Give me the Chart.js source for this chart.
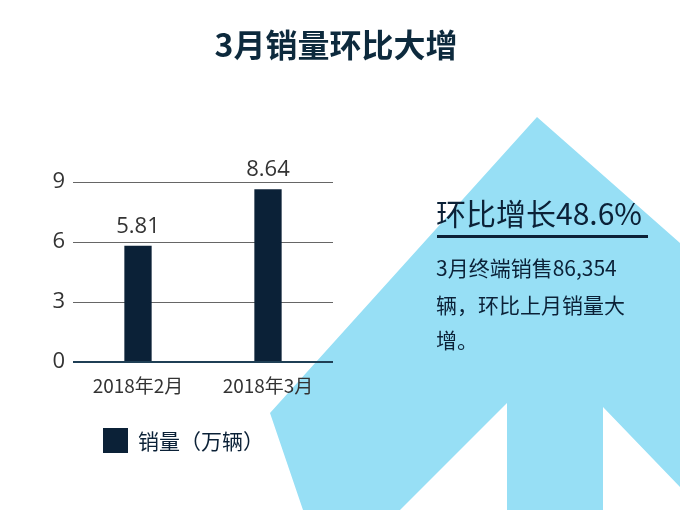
<!DOCTYPE html>
<html>
<head>
<meta charset="utf-8">
<script src="https://cdn.jsdelivr.net/npm/chart.js@4/dist/chart.umd.min.js"></script>
<style>
  body { margin: 0; background: #fff; }
  #wrap { width: 680px; height: 510px; position: relative; }
</style>
</head>
<body>
<div id="wrap"><canvas id="c" width="680" height="510"></canvas></div>
<script>
const categories = ["2018年2月", "2018年3月"]
const sales = [5.81, 8.64]
const yTicks = [0, 3, 6, 9]
const seriesName = "销量（万辆）"

const FONT = "'Noto Sans CJK SC', 'Noto Sans', sans-serif"
const DARK = "#0b2137"

// background arrow, title, side note and legend
const decor = {
  id: "decor",
  beforeDraw(chart) {
    const ctx = chart.ctx
    ctx.save()
    ctx.fillStyle = "#97dff5"
    ctx.beginPath()
    const pts = [[537,117],[680,243],[680,487],[603,407],[603,510],[507,510],[507,403],[400,510],[303,510],[270,413]]
    pts.forEach((p, i) => i ? ctx.lineTo(p[0], p[1]) : ctx.moveTo(p[0], p[1]))
    ctx.closePath()
    ctx.fill()

    ctx.fillStyle = "#0d2a3d"
    ctx.font = "bold 32px " + FONT
    ctx.textAlign = "center"
    ctx.textBaseline = "middle"
    ctx.fillText("3月销量环比大增", 336, 45)

    ctx.textAlign = "left"
    ctx.fillStyle = DARK
    ctx.font = "30px " + FONT
    ctx.fillText("环比增长48.6%", 436, 214)
    ctx.fillRect(437, 235, 211, 3)
    ctx.font = "21px " + FONT
    ctx.fillText("3月终端销售86,354", 436, 268)
    ctx.fillText("辆，环比上月销量大", 436, 305)
    ctx.fillText("增。", 436, 340)

    ctx.fillRect(103, 428, 25, 25)
    ctx.font = "21px " + FONT
    ctx.fillText(seriesName, 138, 441)
    ctx.restore()
  },
  afterDatasetsDraw(chart) {
    const ctx = chart.ctx
    ctx.save()
    ctx.fillStyle = "#333"
    ctx.font = "22px 'Open Sans', sans-serif"
    ctx.textAlign = "center"
    ctx.textBaseline = "bottom"
    chart.getDatasetMeta(0).data.forEach((bar, i) => {
      ctx.fillText(sales[i].toFixed(2), bar.x, bar.y - 8)
    })
    ctx.restore()
  }
}

new Chart(document.getElementById("c"), {
  type: "bar",
  data: {
    labels: categories,
    datasets: [{
      label: seriesName,
      data: sales,
      backgroundColor: DARK,
      categoryPercentage: 1,
      barPercentage: 0.21,
    }],
  },
  options: {
    responsive: false,
    animation: false,
    layout: { padding: { left: 40, right: 347, top: 182, bottom: 108 } },
    plugins: { legend: { display: false }, tooltip: { enabled: false } },
    scales: {
      y: {
        min: 0, max: 9,
        afterFit: (s) => { s.width = 33 },
        afterBuildTicks: (s) => { s.ticks = yTicks.map(v => ({ value: v })) },
        border: { display: false },
        grid: { color: (c) => c.tick.value === 0 ? "#1f3f55" : "#666", lineWidth: (c) => c.tick.value === 0 ? 2 : 1, drawTicks: false },
        ticks: { color: "#333", font: { size: 22, family: "'Open Sans', sans-serif" }, padding: 8 },
      },
      x: {
        afterFit: (s) => { s.height = 40 },
        border: { display: false },
        grid: { display: false },
        ticks: { color: "#333", font: { size: 19, family: FONT }, padding: 4 },
      },
    },
  },
  plugins: [decor],
})
</script>
</body>
</html>
